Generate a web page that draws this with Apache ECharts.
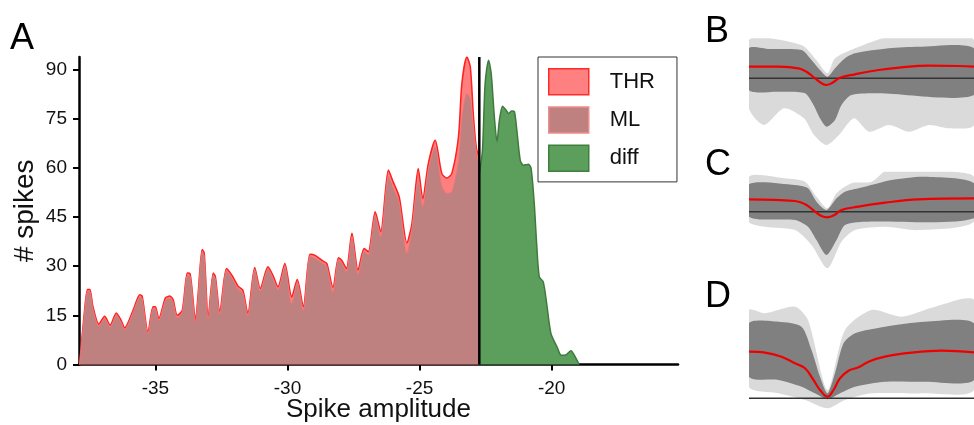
<!DOCTYPE html>
<html><head><meta charset="utf-8">
<script src="https://cdn.jsdelivr.net/npm/echarts@6/dist/echarts.min.js"></script>
<style>html,body{margin:0;padding:0;background:#fff}#c{width:974px;height:425px}</style>
</head><body><div id="c"></div>
<script>
// ---- Panel A: spike amplitude histograms (density) ----
const ampX = [-37.87,-37.69,-37.57,-37.48,-37.36,-37.14,-36.92,-36.71,-36.48,-36.31,-36.16,-35.84,-35.59,-35.50,-35.28,-35.09,-35.00,-34.87,-34.62,-34.45,-34.33,-34.17,-33.98,-33.79,-33.69,-33.48,-33.38,-33.23,-33.15,-33.00,-32.81,-32.73,-32.56,-32.31,-32.10,-31.87,-31.69,-31.50,-31.24,-31.03,-30.74,-30.55,-30.36,-30.10,-29.84,-29.63,-29.40,-29.15,-28.96,-28.65,-28.51,-28.28,-28.07,-27.95,-27.77,-27.56,-27.33,-27.10,-26.94,-26.68,-26.47,-26.18,-26.00,-25.77,-25.48,-25.29,-25.05,-24.88,-24.67,-24.41,-24.16,-23.97,-23.78,-23.53,-23.40,-23.21,-23.08,-22.96,-22.85,-22.74];
const thrCounts = [0,15.6,22.9,22.9,17.6,12.3,14.7,12.0,15.7,13.7,11.2,16.6,21.3,20.9,9.9,17.6,17.6,14.0,20.3,20.9,19.8,15.0,16.6,27.9,27.8,13.5,21.7,35.1,33.9,14.5,27.9,26.9,16.1,29.3,27.2,23.9,22.7,15.6,29.6,23.2,29.8,27.2,23.7,30.8,20.6,25.9,17.6,33.6,33.3,31.5,30.8,23.5,32.6,31.8,29.3,40.0,28.8,35.4,34.4,46.6,40.5,59.3,55.7,51.1,37.1,43.0,59.8,50.6,61.3,68.4,58.3,56.9,58.3,69.4,85.7,93.8,90.8,75.5,66.0,63.0];
const mlCounts = [0,15.0,22.2,22.2,17.0,11.7,14.0,11.4,15.0,13.1,10.7,16.0,20.5,20.2,9.4,17.0,17.0,13.4,19.6,20.2,19.1,14.3,16.0,27.2,27.1,12.9,21.0,34.3,33.1,13.9,27.2,26.2,15.4,28.6,26.4,23.0,21.8,14.9,29.0,22.4,29.1,26.4,22.8,30.0,18.5,25.0,16.5,33.0,32.5,30.8,30.0,22.0,32.0,31.0,28.3,39.0,27.5,34.5,33.5,45.5,39.0,57.5,54.0,49.5,33.9,41.5,56.3,48.1,59.5,66.4,54.5,52.2,52.8,62.0,75.5,82.7,81.1,72.5,65.0,60.3];
const diffX = [-22.74,-22.62,-22.52,-22.39,-22.29,-22.17,-22.07,-21.98,-21.86,-21.73,-21.63,-21.51,-21.41,-21.32,-21.19,-21.07,-20.88,-20.78,-20.66,-20.57,-20.47,-20.32,-20.19,-20.03,-19.80,-19.64,-19.47,-19.27,-19.14,-18.96];
const diffCounts = [58,65.4,85.7,92.8,88.8,75.5,67.9,74.5,78.8,77.6,76.6,77.3,77.1,71.5,62.3,60.8,61.1,59.8,49.1,36.9,26.7,25.2,18.6,9.5,5.4,2.8,2.9,4.2,2.8,0];
const threshold = -22.74;
const xTicks = [-35,-30,-25,-20];
const yTicks = [0,15,30,45,60,75,90];
const seriesNames = ['THR','ML','diff'];
const panelLetters = ['A','B','C','D'];

// ---- Panels B, C, D: waveforms (sample index t, amplitude) ----
const bMeanT = [0,5.9,9.9,11.5,13.2,14.5,15.5,16.7,18.2,21.2,25.9,30.5,35.9,41.9,45];
const bMean  = [1.16,1.16,1.0,0.66,0,-0.5,-0.67,-0.44,0.06,0.4,0.83,1.1,1.26,1.23,1.16];
const bCoreUpT = [0,4.1,10.5,12.5,14.2,15.7,17.2,19.2,21.2,27.9,33.9,45];
const bCoreUp  = [3.0,2.93,2.83,1.83,0.83,0.16,1.0,2.0,2.5,3.0,3.16,3.0];
const bCoreLoT = [0,5.9,11.2,12.9,14.2,15.5,17.2,18.5,20.5,25.9,45];
const bCoreLo  = [-1.17,-1.34,-1.5,-2.67,-4.0,-4.84,-4.17,-2.67,-1.67,-1.5,-1.67];
const bOutUpT = [0,10.5,13.5,15.7,17.2,21.2,27.9,33.9,45];
const bOutUp  = [3.83,3.33,1.8,0.5,2.0,3.0,4.16,4.33,3.83];
const bOutLoT = [0,3,7,11,13,15.5,18,21,24,28,32,36,40,45];
const bOutLo  = [-3.0,-4.67,-3.0,-4.0,-5.67,-6.67,-5.67,-4.0,-5.34,-4.67,-5.34,-4.67,-5.0,-4.67];

const cMeanT = [0,9.2,11.5,13.2,14.5,15.7,17.1,18.5,21.9,27.2,33.9,45];
const cMean  = [1.24,1.07,0.67,0,-0.43,-0.56,-0.33,0.17,0.5,0.9,1.24,1.34];
const cCoreUpT = [0,9.2,11.8,13.5,15.5,17.5,19.2,23.2,28.5,35.2,45];
const cCoreUp  = [2.74,2.67,2.34,1.0,0.17,1.34,2.0,2.5,3.17,3.5,2.84];
const cCoreLoT = [0,9.2,11.8,13.5,15.5,17.5,19.2,23.2,45];
const cCoreLo  = [-0.5,-0.83,-1.5,-2.83,-4.33,-2.83,-1.33,-1.0,-0.66];
const cOutUpT = [0,7.2,11.2,13.5,15.7,17.5,20.5,24.5,28.5,35.2,41,45];
const cOutUp  = [3.5,3.34,3.0,1.5,0.34,1.84,2.84,3.0,4.5,4.34,4.0,3.5];
const cOutLoT = [0,3.2,9.2,12.5,15.7,18.5,21.2,27.2,33.9,45];
const cOutLo  = [-1.0,-1.5,-1.84,-3.33,-5.66,-3.0,-1.84,-1.5,-1.84,-1.0];

const dMeanT = [0,3.2,6.5,9.2,11.2,12.9,14.2,15.7,16.9,18.2,19.9,21.9,23.9,27.2,32.5,38.5,45];
const dMean  = [4.66,4.56,4.16,3.5,3.0,1.83,0.83,0.16,0.83,2.0,2.76,3.1,3.66,4.16,4.56,4.76,4.6];
const dCoreUpT = [0,5.9,10.5,12.5,14.2,15.7,17.2,18.9,21.2,27.2,35.2,45];
const dCoreUp  = [7.5,7.66,7.16,4.83,2.16,0.5,2.5,5.5,6.5,7.16,7.66,7.5];
const dCoreLoT = [0,5.9,10.5,13.2,15.7,18.2,21.2,27.2,35.2,45];
const dCoreLo  = [2.16,1.83,1.16,0.5,-0.1,0.5,1.16,1.66,1.66,1.83];
const dOutUpT = [0,3.2,9.2,11.8,15.7,19.2,24.5,30.5,37.2,45];
const dOutUp  = [8.83,8.5,9.16,7.83,0.83,6.83,8.83,8.16,9.16,9.83];
const dOutLoT = [0,5.9,11.2,15.7,19.2,24.5,35,45];
const dOutLo  = [1.16,0.5,-0.17,-1.0,-0.17,0.5,0.5,0.83];

const FONT = 'Liberation Sans, Arial, sans-serif';
const pairs = (xs, ys) => xs.map((x, i) => [x, ys[i]]);

function band(idx, upT, up, loT, lo, color) {
  return {
    type: 'custom', xAxisIndex: idx, yAxisIndex: idx, data: [[0, 0]], silent: true, clip: true,
    renderItem: function (params, api) {
      const pts = [];
      for (let i = 0; i < upT.length; i++) pts.push(api.coord([upT[i], up[i]]));
      for (let i = loT.length - 1; i >= 0; i--) pts.push(api.coord([loT[i], lo[i]]));
      return { type: 'polygon', shape: { points: pts, smooth: 0.25 }, style: { fill: color } };
    }
  };
}
function meanLine(idx, ts, vs) {
  return { type: 'line', xAxisIndex: idx, yAxisIndex: idx, data: pairs(ts, vs), smooth: 0.4,
    showSymbol: false, silent: true, lineStyle: { color: '#ee0000', width: 2.2 }, z: 5 };
}
function baseLine(idx) {
  return { type: 'line', xAxisIndex: idx, yAxisIndex: idx, data: [[0, 0], [45, 0]], showSymbol: false,
    silent: true, lineStyle: { color: '#333', width: 1.5 }, z: 4 };
}

const chart = echarts.init(document.getElementById('c'), null, { renderer: 'canvas' });
const hiddenX = { type: 'value', min: 0, max: 45, show: false };
const FRINGE = 'rgba(140,140,140,0.32)';
chart.setOption({
  animation: false,
  backgroundColor: '#fff',
  grid: [
    { left: 79, top: 57, width: 599, height: 307.5, outerBoundsMode: 'none', containLabel: false },
    { left: 749, top: 38.3, width: 225, height: 110, outerBoundsMode: 'none' },
    { left: 749, top: 171.7, width: 225, height: 110, outerBoundsMode: 'none' },
    { left: 749, top: 298.3, width: 225, height: 120, outerBoundsMode: 'none' }
  ],
  xAxis: [
    { gridIndex: 0, type: 'value', min: -37.89, max: -15.22,
      name: 'Spike amplitude', nameLocation: 'middle', nameGap: 32, nameMoveOverlap: false,
      nameTextStyle: { fontSize: 26, color: '#111', fontFamily: FONT },
      axisLine: { lineStyle: { color: '#000', width: 2.5 } },
      axisTick: { show: true, length: 6, customValues: xTicks, lineStyle: { color: '#000', width: 2 } },
      axisLabel: { customValues: xTicks, fontSize: 19, color: '#111', fontFamily: FONT, margin: 15 },
      splitLine: { show: false } },
    Object.assign({ gridIndex: 1 }, hiddenX),
    Object.assign({ gridIndex: 2 }, hiddenX),
    Object.assign({ gridIndex: 3 }, hiddenX)
  ],
  yAxis: [
    { gridIndex: 0, type: 'value', min: 0, max: 93.8,
      name: '# spikes', nameLocation: 'middle', nameGap: 40, nameRotate: 90, nameMoveOverlap: false,
      nameTextStyle: { fontSize: 28, color: '#111', fontFamily: FONT },
      axisLine: { show: true, lineStyle: { color: '#000', width: 2.5 } },
      axisTick: { show: true, length: 6, customValues: yTicks, lineStyle: { color: '#000', width: 2 } },
      axisLabel: { customValues: yTicks, fontSize: 19, color: '#111', fontFamily: FONT, margin: 12 },
      splitLine: { show: false } },
    { gridIndex: 1, type: 'value', min: -7, max: 4, show: false },
    { gridIndex: 2, type: 'value', min: -7, max: 4, show: false },
    { gridIndex: 3, type: 'value', min: -2, max: 10, show: false }
  ],
  legend: {
    left: 538, top: 57, orient: 'vertical', icon: 'rect', itemWidth: 40, itemHeight: 26, itemGap: 10.7,
    padding: [11, 22, 10, 10], borderColor: '#333', borderWidth: 1, backgroundColor: '#fff',
    textStyle: { fontSize: 22, color: '#111', fontFamily: FONT, padding: [0, 0, 0, 16] },
    data: [
      { name: seriesNames[0], itemStyle: { color: '#ff8080', borderColor: '#ff2a2a', borderWidth: 1.5 } },
      { name: seriesNames[1], itemStyle: { color: '#bf8080', borderColor: '#ef8c8c', borderWidth: 1.5 } },
      { name: seriesNames[2], itemStyle: { color: '#5c9e5c', borderColor: '#3f7f3f', borderWidth: 1.5 } }
    ]
  },
  graphic: [
    { type: 'text', left: 10, top: 21, style: { text: panelLetters[0], font: '36px ' + FONT, fill: '#000' } },
    { type: 'text', left: 705, top: 14, style: { text: panelLetters[1], font: '36px ' + FONT, fill: '#000' } },
    { type: 'text', left: 705, top: 147, style: { text: panelLetters[2], font: '36px ' + FONT, fill: '#000' } },
    { type: 'text', left: 705, top: 279, style: { text: panelLetters[3], font: '36px ' + FONT, fill: '#000' } }
  ],
  series: [
    { name: seriesNames[0], type: 'line', xAxisIndex: 0, yAxisIndex: 0, data: pairs(ampX, thrCounts),
      smooth: 0.25, showSymbol: false, silent: true,
      lineStyle: { color: '#ff2020', width: 1.5 }, itemStyle: { color: '#ff8080' },
      areaStyle: { color: 'rgba(255,0,0,0.5)', opacity: 1 }, z: 2 },
    { name: seriesNames[1], type: 'line', xAxisIndex: 0, yAxisIndex: 0, data: pairs(ampX, mlCounts),
      smooth: 0.25, showSymbol: false, silent: true,
      lineStyle: { color: 'rgba(240,120,120,0.8)', width: 1 }, itemStyle: { color: '#bf8080' },
      areaStyle: { color: '#bf8080', opacity: 1 }, z: 3 },
    { name: seriesNames[2], type: 'line', xAxisIndex: 0, yAxisIndex: 0, data: pairs(diffX, diffCounts),
      smooth: 0.25, showSymbol: false, silent: true,
      lineStyle: { color: '#3f7a3f', width: 1.5 }, itemStyle: { color: '#5c9e5c' },
      areaStyle: { color: '#5c9e5c', opacity: 1 }, z: 3 },
    { type: 'line', xAxisIndex: 0, yAxisIndex: 0, data: [[threshold, 0], [threshold, 93.8]],
      showSymbol: false, silent: true, lineStyle: { color: '#000', width: 2.5 }, z: 6 },

    band(1, bOutUpT, bOutUp, bOutLoT, bOutLo, FRINGE),
    band(1, bCoreUpT, bCoreUp, bCoreLoT, bCoreLo, '#808080'),
    baseLine(1), meanLine(1, bMeanT, bMean),
    band(2, cOutUpT, cOutUp, cOutLoT, cOutLo, FRINGE),
    band(2, cCoreUpT, cCoreUp, cCoreLoT, cCoreLo, '#808080'),
    baseLine(2), meanLine(2, cMeanT, cMean),
    band(3, dOutUpT, dOutUp, dOutLoT, dOutLo, FRINGE),
    band(3, dCoreUpT, dCoreUp, dCoreLoT, dCoreLo, '#808080'),
    baseLine(3), meanLine(3, dMeanT, dMean)
  ]
});
</script></body></html>
